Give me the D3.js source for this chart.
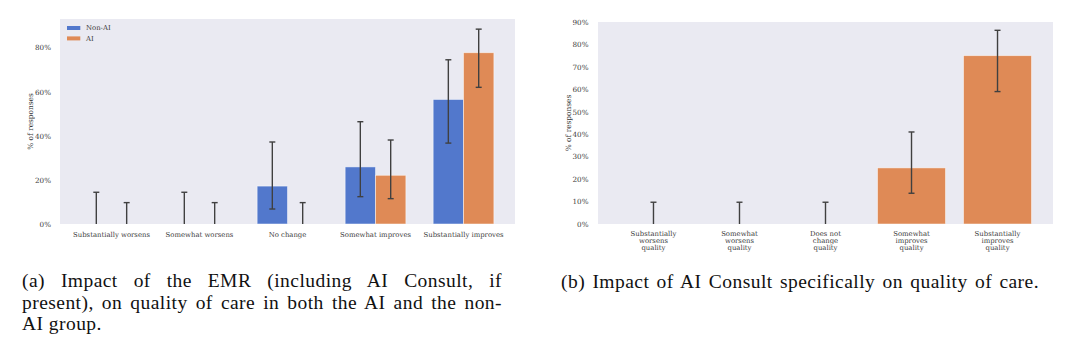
<!DOCTYPE html>
<html>
<head>
<meta charset="utf-8">
<script src="https://cdn.jsdelivr.net/npm/d3@7"></script>
<style>
  body { margin: 0; background: #fff; }
  svg { display: block; }
</style>
</head>
<body>
<script>
// data (percent of responses)
var categoriesA = ["Substantially worsens", "Somewhat worsens", "No change", "Somewhat improves", "Substantially improves"];
var seriesNames = ["Non-AI", "AI"];
var nonAI = [0, 0, 17.2, 25.9, 56.5];
var nonAILow = [0, 0, 6.8, 12.4, 36.7];
var nonAIHigh = [14.4, 14.4, 37.2, 46.4, 74.5];
var ai = [0, 0, 0, 22.1, 77.7];
var aiLow = [0, 0, 0, 11.5, 62.0];
var aiHigh = [9.7, 9.7, 9.7, 38.1, 88.4];
var ticksA = [0, 20, 40, 60, 80];

var categoriesB = ["Substantially worsens quality", "Somewhat worsens quality", "Does not change quality", "Somewhat improves quality", "Substantially improves quality"];
var labelLinesB = [["Substantially", "worsens", "quality"], ["Somewhat", "worsens", "quality"], ["Does not", "change", "quality"], ["Somewhat", "improves", "quality"], ["Substantially", "improves", "quality"]];
var consult = [0, 0, 0, 25, 75];
var consultLow = [0, 0, 0, 13.7, 59.0];
var consultHigh = [9.7, 9.7, 9.7, 41.0, 86.3];
var ticksB = [0, 10, 20, 30, 40, 50, 60, 70, 80, 90];

var captionA = ["(a) Impact of the EMR (including AI Consult, if", "present), on quality of care in both the AI and the non-", "AI group."];
var captionB = "(b) Impact of AI Consult specifically on quality of care.";

var colors = ["#5278cc", "#df8a56"];
var bg = "#eaeaf2";
var errColor = "#404040";
var textColor = "#3a3a3a";
var tickFont = "'DejaVu Serif', serif";
var capFont = "'Liberation Serif', serif";

var svg = d3.select("body").append("svg")
    .attr("width", 1080)
    .attr("height", 351);

function errorBars(g, xs, lo, hi, y){
    var cap = 3;
    var e = g.append("g").selectAll("g").data(xs.map(function(x, i){ return [x, lo[i], hi[i]]; }))
        .enter().append("g")
        .attr("stroke", errColor)
        .attr("stroke-width", 1.4);
    e.append("line")
        .attr("x1", function(d){ return d[0]; }).attr("x2", function(d){ return d[0]; })
        .attr("y1", function(d){ return y(d[1]); }).attr("y2", function(d){ return y(d[2]); });
    e.append("line") // top cap
        .attr("x1", function(d){ return d[0] - cap; }).attr("x2", function(d){ return d[0] + cap; })
        .attr("y1", function(d){ return y(d[2]); }).attr("y2", function(d){ return y(d[2]); });
    e.filter(function(d){ return d[1] > 0; }).append("line") // bottom cap
        .attr("x1", function(d){ return d[0] - cap; }).attr("x2", function(d){ return d[0] + cap; })
        .attr("y1", function(d){ return y(d[1]); }).attr("y2", function(d){ return y(d[1]); });
}

function yAxisStyle(g){
    g.select(".domain").remove();
    g.selectAll(".tick line").remove();
    g.selectAll(".tick text")
        .style("font-family", tickFont)
        .attr("font-size", "7.2px")
        .attr("fill", textColor);
}

// ---------- chart (a) ----------
var aLeft = 60, aRight = 515, aTop = 19, aBottom = 224;

var xA = d3.scaleBand()
    .domain(categoriesA)
    .range([aLeft, aRight])
    .paddingInner(0)
    .paddingOuter(0.085);

var xSub = d3.scaleBand()
    .domain(seriesNames)
    .range([0, xA.bandwidth() * 0.69]);

var yA = d3.scaleLinear().domain([0, 93]).range([aBottom, aTop]);

var gA = svg.append("g");
gA.append("rect")
    .attr("x", aLeft).attr("y", aTop)
    .attr("width", aRight - aLeft).attr("height", aBottom - aTop)
    .attr("fill", bg);

var groupOff = (xA.bandwidth() - xSub.range()[1]) / 2;
var seriesA = [nonAI, ai];
seriesA.forEach(function(vals, s){
    gA.append("g").selectAll("rect")
        .data(vals)
        .enter().append("rect")
        .attr("x", function(d, i){ return xA(categoriesA[i]) + groupOff + xSub(seriesNames[s]); })
        .attr("y", function(d){ return yA(d); })
        .attr("width", xSub.bandwidth())
        .attr("height", function(d){ return aBottom - yA(d); })
        .attr("fill", colors[s])
        .attr("stroke", "#fff")
        .attr("stroke-opacity", 0.6)
        .attr("stroke-width", 0.8);
});

errorBars(gA, categoriesA.map(function(c){ return xA(c) + groupOff + xSub("Non-AI") + xSub.bandwidth() / 2; }), nonAILow, nonAIHigh, yA);
errorBars(gA, categoriesA.map(function(c){ return xA(c) + groupOff + xSub("AI") + xSub.bandwidth() / 2; }), aiLow, aiHigh, yA);

gA.append("g")
    .attr("transform", "translate(" + (aLeft - 6) + ",0)")
    .call(d3.axisLeft(yA).tickValues(ticksA).tickFormat(function(d){ return d + "%"; }).tickSize(0))
    .call(yAxisStyle);

gA.append("g")
    .attr("transform", "translate(0," + aBottom + ")")
    .call(d3.axisBottom(xA).tickSize(0).tickPadding(8))
    .call(function(g){
        g.select(".domain").remove();
        g.selectAll(".tick text")
            .style("font-family", tickFont)
            .attr("font-size", "6.9px")
            .attr("fill", textColor);
    });

gA.append("text")
    .attr("transform", "translate(33," + ((aTop + aBottom) / 2) + ") rotate(-90)")
    .attr("text-anchor", "middle")
    .style("font-family", tickFont)
    .attr("font-size", "7.4px")
    .attr("fill", textColor)
    .text("% of responses");

// legend
var leg = gA.append("g").attr("transform", "translate(67,28)");
leg.selectAll("rect").data(seriesNames).enter().append("rect")
    .attr("x", 0).attr("y", function(d, i){ return i * 10.4 - 2; })
    .attr("width", 13.3).attr("height", 4)
    .attr("fill", function(d, i){ return colors[i]; });
leg.selectAll("text").data(seriesNames).enter().append("text")
    .attr("x", 19).attr("y", function(d, i){ return i * 10.4; })
    .attr("dy", "0.35em")
    .style("font-family", tickFont)
    .attr("font-size", "6.9px")
    .attr("fill", textColor)
    .text(function(d){ return d; });

// ---------- chart (b) ----------
var bLeft = 598, bRight = 1053, bTop = 22, bBottom = 224;

var xB = d3.scaleBand()
    .domain(categoriesB)
    .range([bLeft, bRight])
    .paddingInner(0)
    .paddingOuter(0.145);

var yB = d3.scaleLinear().domain([0, 90]).range([bBottom, bTop]);

var gB = svg.append("g");
gB.append("rect")
    .attr("x", bLeft).attr("y", bTop)
    .attr("width", bRight - bLeft).attr("height", bBottom - bTop)
    .attr("fill", bg);

var barW = xB.bandwidth() * 0.79;
gB.append("g").selectAll("rect")
    .data(consult)
    .enter().append("rect")
    .attr("x", function(d, i){ return xB(categoriesB[i]) + (xB.bandwidth() - barW) / 2; })
    .attr("y", function(d){ return yB(d); })
    .attr("width", barW)
    .attr("height", function(d){ return bBottom - yB(d); })
    .attr("fill", colors[1])
    .attr("stroke", "#fff")
    .attr("stroke-opacity", 0.6)
    .attr("stroke-width", 0.8);

errorBars(gB, categoriesB.map(function(c){ return xB(c) + xB.bandwidth() / 2; }), consultLow, consultHigh, yB);

gB.append("g")
    .attr("transform", "translate(" + (bLeft - 6.5) + ",0)")
    .call(d3.axisLeft(yB).tickValues(ticksB).tickFormat(function(d){ return d + "%"; }).tickSize(0))
    .call(yAxisStyle);

var xAxisB = gB.append("g")
    .attr("transform", "translate(0," + bBottom + ")")
    .call(d3.axisBottom(xB).tickSize(0).tickFormat(""));
xAxisB.select(".domain").remove();
xAxisB.selectAll(".tick text").each(function(d, i){
    var t = d3.select(this)
        .attr("y", 9.3)
        .attr("dy", 0)
        .style("font-family", tickFont)
        .attr("font-size", "6.9px")
        .attr("fill", textColor);
    labelLinesB[i].forEach(function(line, k){
        t.append("tspan").attr("x", 0).attr("dy", k === 0 ? "0.35em" : "7.1px").text(line);
    });
});

gB.append("text")
    .attr("transform", "translate(571," + ((bTop + bBottom) / 2) + ") rotate(-90)")
    .attr("text-anchor", "middle")
    .style("font-family", tickFont)
    .attr("font-size", "7.4px")
    .attr("fill", textColor)
    .text("% of responses");

// ---------- captions ----------
// justified lines: stretch the word gaps so the line fills the column
function justify(t, width){
    var spaces = t.text().split(" ").length - 1;
    var natural = t.node().getComputedTextLength();
    if (spaces > 0 && natural < width) {
        t.style("word-spacing", ((width - natural) / spaces) + "px");
    }
}

var capA = svg.append("g");
captionA.forEach(function(line, i){
    var t = capA.append("text")
        .attr("x", 22)
        .attr("y", 287 + i * 21.7)
        .style("font-family", capFont)
        .style("letter-spacing", "0.45px")
        .attr("font-size", "19.5px")
        .attr("fill", "#111")
        .text(line);
    if (i < captionA.length - 1) justify(t, 480);
});

var capB = svg.append("text")
    .attr("x", 561)
    .attr("y", 288)
    .style("font-family", capFont)
    .style("letter-spacing", "0.45px")
    .attr("font-size", "19.5px")
    .attr("fill", "#111")
    .text(captionB);
justify(capB, 478);
</script>
</body>
</html>
